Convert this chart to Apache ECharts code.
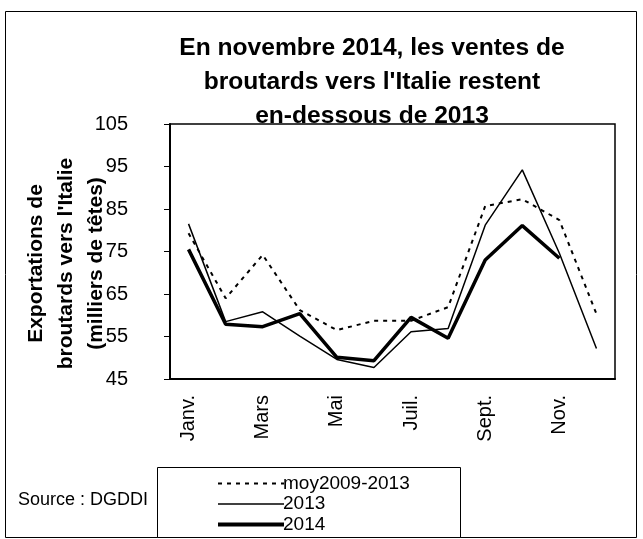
<!DOCTYPE html>
<html><head><meta charset="utf-8">
<script src="https://cdn.jsdelivr.net/npm/echarts@6/dist/echarts.min.js"></script>
<style>html,body{margin:0;padding:0;background:#fff}#c{width:643px;height:539px}</style>
</head><body><div id="c"></div>
<script>
var months = ['Janv.','Févr.','Mars','Avr.','Mai','Juin','Juil.','Août','Sept.','Oct.','Nov.','Déc.'];
var moy = [79.3, 64.0, 74.2, 61.2, 56.5, 58.7, 58.7, 61.9, 85.7, 87.3, 82.4, 60.3];
var s2013 = [81.5, 58.5, 60.8, 55.1, 49.6, 47.7, 56.1, 56.9, 81.2, 94.2, 74.6, 52.2];
var s2014 = [75.5, 57.9, 57.3, 60.4, 50.1, 49.3, 59.5, 54.6, 73.0, 81.1, 73.4, null];
var yTicks = [45, 55, 65, 75, 85, 95, 105];

var font = 'Liberation Sans, Arial, sans-serif';
var chart = echarts.init(document.getElementById('c'));
chart.setOption({
  animation: false,
  textStyle: {fontFamily: font, color: '#000'},
  title: {
    text: "En novembre 2014, les ventes de\nbroutards vers l'Italie restent\nen-dessous de 2013",
    left: 367, top: 26, textAlign: 'center',
    textStyle: {fontFamily: font, fontSize: 24.6, fontWeight: 'bold', lineHeight: 34, color: '#000'}
  },
  graphic: [
    {type: 'rect', shape: {x: 5.5, y: 11.5, width: 631, height: 526}, style: {fill: null, stroke: '#000', lineWidth: 1}, silent: true, z: -1},
    {type: 'rect', shape: {x: 157.5, y: 467.5, width: 303, height: 70}, style: {fill: '#fff', stroke: '#000', lineWidth: 1}, silent: true, z: 0},
    {type: 'text', left: 18, top: 491, style: {text: 'Source : DGDDI', fontFamily: font, fontSize: 18, fill: '#000'}}
  ],
  legend: {
    orient: 'vertical', left: 216, top: 474, height: 65, padding: 0, itemWidth: 66, itemHeight: 18, itemGap: 1.5,
    itemStyle: {opacity: 0},
    textStyle: {fontFamily: font, fontSize: 19, lineHeight: 18, color: '#000', padding: [0,0,0,-6]},
    data: [
      {name: 'moy2009-2013', lineStyle: {width: 2, type: [4, 5], color: '#000'}},
      {name: '2013', lineStyle: {width: 1.5, color: '#000'}},
      {name: '2014', lineStyle: {width: 4, color: '#000'}}
    ], z: 5
  },
  grid: {left: 170, right: 28, top: 124, bottom: 160, outerBoundsMode: 'none', containLabel: false, show: true, borderColor: '#000', borderWidth: 1.5, backgroundColor: 'transparent'},
  xAxis: {
    type: 'category', data: months, boundaryGap: true,
    axisLine: {lineStyle: {color: '#000', width: 2}},
    axisTick: {interval: 0, length: 6, lineStyle: {color: '#000', width: 1}},
    axisLabel: {interval: 1, rotate: 90, fontSize: 20, color: '#000', margin: 16, fontFamily: font}
  },
  yAxis: {
    type: 'value', min: 45, max: 105, interval: 10,
    name: "Exportations de\nbroutards vers l'Italie\n(milliers de têtes)",
    nameLocation: 'middle', nameGap: 59, nameRotate: 90, nameMoveOverlap: false,
    nameTextStyle: {fontFamily: font, fontSize: 21, fontWeight: 'bold', lineHeight: 30, color: '#000', padding: [0, 24, 0, 0]},
    axisLine: {show: true, lineStyle: {color: '#000', width: 2}},
    axisTick: {show: true, length: 6, lineStyle: {color: '#000'}},
    axisLabel: {fontSize: 20, color: '#000', margin: 42, fontFamily: font, customValues: yTicks},
    splitLine: {show: false}
  },
  series: [
    {name: 'moy2009-2013', type: 'line', data: moy, symbol: 'none', lineStyle: {color: '#000', width: 2, type: [4, 5]}, itemStyle: {color: '#000'}},
    {name: '2013', type: 'line', data: s2013, symbol: 'none', lineStyle: {color: '#000', width: 1.5}, itemStyle: {color: '#000'}},
    {name: '2014', type: 'line', data: s2014, symbol: 'none', lineStyle: {color: '#000', width: 3.5}, itemStyle: {color: '#000'}}
  ]
});
</script></body></html>
